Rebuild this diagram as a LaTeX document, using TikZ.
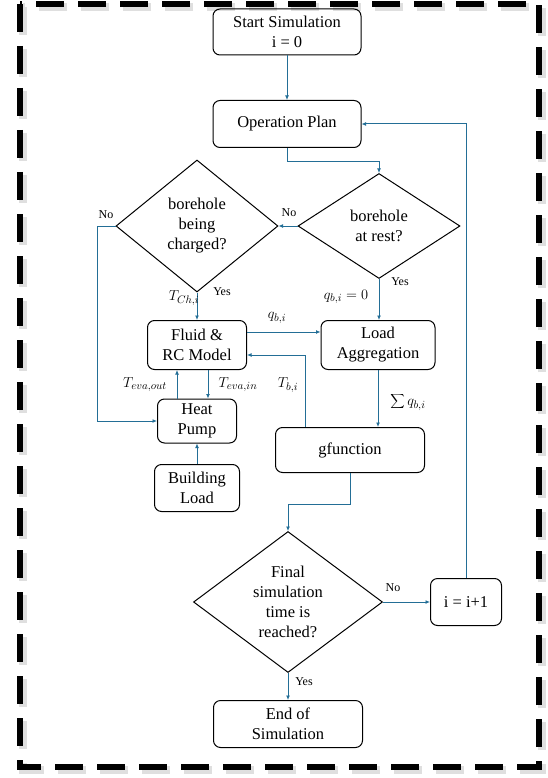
\documentclass[tikz,border=0pt]{standalone}
\usepackage{fontspec}
\setmainfont{Liberation Serif}
\usetikzlibrary{shapes.geometric,arrows.meta}
\definecolor{flow}{RGB}{35,110,150}
\tikzset{ box/.style = { rectangle
                       , draw
                       , line width      = 1pt
                       , rounded corners = 7pt
                       , align           = center
                       , inner sep       = 2pt
                       , font            = \fontsize{16.5}{20}\selectfont
                       },
          dia/.style = { diamond
                       , draw
                       , line width   = 1pt
                       , align        = center
                       , inner sep    = 0pt
                       , font         = \fontsize{16.5}{20}\selectfont
                       },
          flowline/.style = { draw = flow
                       , line width = 1pt
                       , -{Latex[length=4.5pt,width=4pt]}
                       },
          lbl/.style = { font = \fontsize{12}{14}\selectfont },
          var/.style = { font = \fontsize{15.5}{18}\selectfont }
        }
\begin{document}
\begin{tikzpicture}[x=1pt, y=-1pt]
            \useasboundingbox (0,0) rectangle (548,778);
            % frame
            \draw[gray!25, line width=8pt, dash pattern=on 28pt off 14pt] (23,7) rectangle (542,770);
            \draw[line width=5.5pt, dash pattern=on 28pt off 14pt] (20,4) rectangle (539,767);
            % steps
            \node[box, minimum width=148, minimum height=46] (start) at (287,32) {Start Simulation\\i = 0};
            \node[box, minimum width=148, minimum height=47] (plan) at (287,124) {Operation Plan};
            \node[dia, minimum width=162, minimum height=105, aspect=1.54] (rest) at (379,226) {borehole\\at rest?};
            \node[dia, minimum width=162, minimum height=132, aspect=1.23] (charged) at (197,226) {borehole\\being\\charged?};
            \node[box, minimum width=99, minimum height=49] (fluid) at (197,345) {Fluid \&\\RC Model};
            \node[box, minimum width=114, minimum height=49] (agg) at (378,345) {Load\\Aggregation};
            \node[box, minimum width=79, minimum height=44] (hp) at (197,421) {Heat\\Pump};
            \node[box, minimum width=85, minimum height=47] (bl) at (197,488) {Building\\Load};
            \node[box, minimum width=149, minimum height=45] (gf) at (350,450) {gfunction};
            \node[dia, minimum width=189, minimum height=141, aspect=1.34] (final) at (288,602) {Final\\simulation\\time is\\reached?};
            \node[box, minimum width=71, minimum height=47] (inc) at (466,602) {i = i+1};
            \node[box, minimum width=149, minimum height=47] (end) at (288,724) {End of\\Simulation};
            % connectors
            \draw[flowline] (start) -- (plan);
            \draw[flowline] (plan.south) -- ++(0,14) -| (rest.north);
            \draw[flowline] (rest.west) -- (charged.east);
            \draw[flowline] (charged.west) -- ++(-18,0) |- (hp.west);
            \draw[flowline] (charged.south) -- (fluid.north);
            \draw[flowline] (rest.south) -- (rest.south |- agg.north);
            \draw[flowline] ([yshift=13pt]fluid.east) -- ([yshift=13pt]agg.west);
            \draw[flowline] ([xshift=-45pt]gf.north) |- ([yshift=-10pt]fluid.east);
            \draw[flowline] ([xshift=-20pt]hp.north) -- ([xshift=-20pt]fluid.south);
            \draw[flowline] ([xshift=11pt]fluid.south) -- ([xshift=11pt]hp.north);
            \draw[flowline] (bl) -- (hp);
            \draw[flowline] (agg.south) -- (agg.south |- gf.north);
            \draw[flowline] (gf.south) -- ++(0,31) -| (final.north);
            \draw[flowline] (final.east) -- (inc.west);
            \draw[flowline] (inc.north) |- (plan.east);
            \draw[flowline] (final.south) -- (end.north);
            % labels
            \node[lbl] (no1) at (106,215) {No};
            \node[lbl] (no2) at (289,213) {No};
            \node[lbl] (yes1) at (222,292) {Yes};
            \node[lbl] (yes2) at (400,282) {Yes};
            \node[lbl] (no3) at (393,588) {No};
            \node[lbl] (yes3) at (304,682) {Yes};
            \node[var] (tch) at (184,298) {$T_{Ch,i}$};
            \node[var] (qb0) at (346,297) {$q_{b,i} = 0$};
            \node[var] (qb) at (277,318) {$q_{b,i}$};
            \node[var] (tout) at (145,385) {$T_{eva,out}$};
            \node[var] (tin) at (238,385) {$T_{eva,in}$};
            \node[var] (tb) at (288,385) {$T_{b,i}$};
            \node[var] (sum) at (408,402) {$\displaystyle\sum q_{b,i}$};
\end{tikzpicture}
\end{document}
